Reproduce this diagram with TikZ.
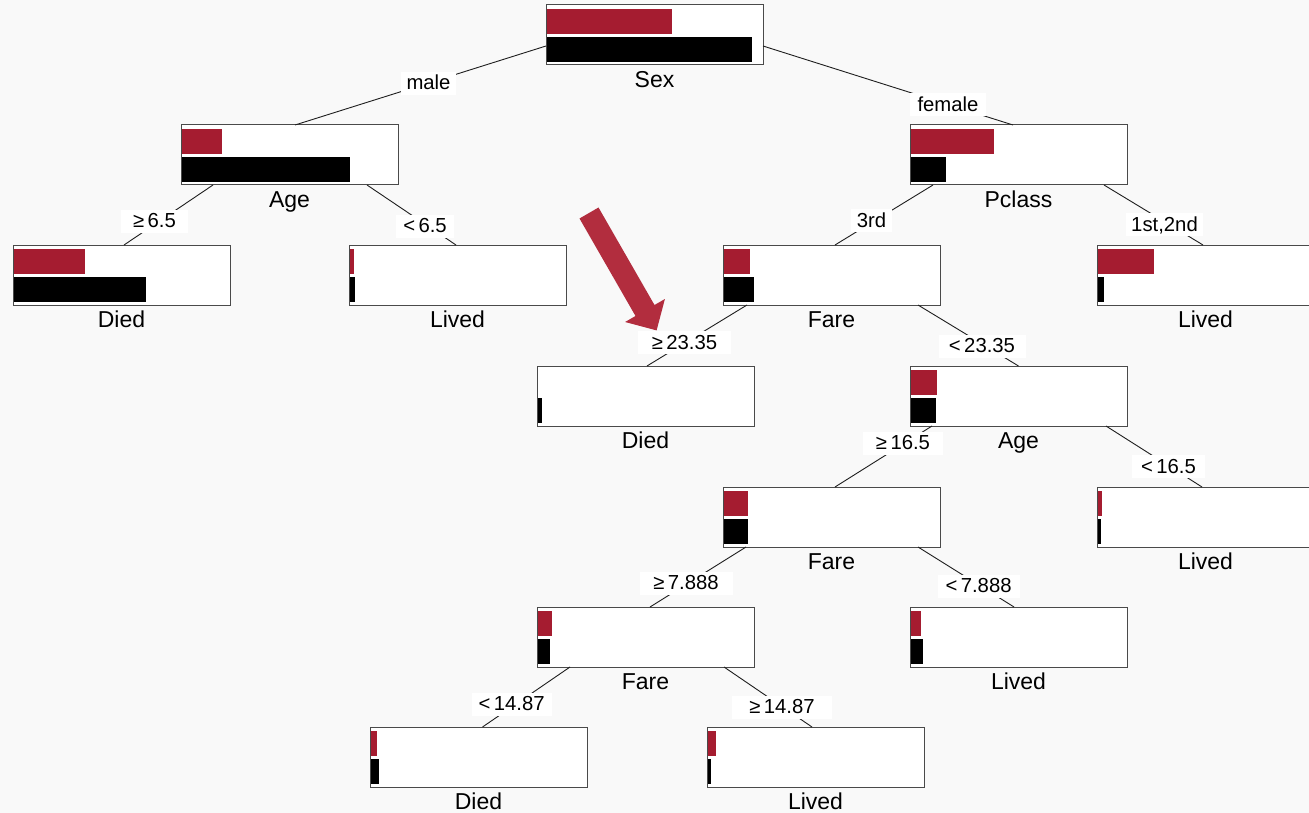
\documentclass[tikz,border=0pt]{standalone}
\usepackage{fontspec}
\setmainfont{Liberation Sans}
\usetikzlibrary{calc}
\definecolor{bgc}{HTML}{F9F9F9}
\definecolor{barred}{HTML}{A51C30}
\definecolor{arrowred}{HTML}{B22D3E}
\definecolor{boxline}{HTML}{4A4A4A}
\definecolor{edgeline}{HTML}{1E1E1E}
\tikzset{
  treebox/.style={draw=boxline, line width=1pt, fill=white, minimum width=217pt, minimum height=60pt, inner sep=0pt, outer sep=0pt},
  nodelab/.style={font=\fontsize{23}{26}\selectfont, inner sep=0pt, anchor=base},
  edgelab/.style={fill=white, font=\fontsize{20.3}{24}\selectfont, text height=14.5pt, text depth=1.5pt, inner xsep=5.5pt, inner ysep=3.5pt},
  edge/.style={draw=edgeline, line width=0.9pt}
}
\newcommand\treebars[3]{%
  \fill[barred] ([shift={(1pt,-4pt)}]#1.north west) rectangle ++(#2,25);
  \fill[black] ([shift={(1pt,-32pt)}]#1.north west) rectangle ++(#3,25);
}
\begin{document}
\begin{tikzpicture}[x=1pt,y=-1pt]
\fill[bgc] (0,0) rectangle (1309,813);
\useasboundingbox (0,0) rectangle (1309,813);
% boxes
\node[treebox] (sex) at (654.5,35) {};
\node[treebox] (ageL) at (289.5,155) {};
\node[treebox] (diedL) at (121.5,275) {};
\node[treebox] (lived65) at (457.5,275) {};
\node[treebox] (pclass) at (1018.5,155) {};
\node[treebox] (lived12) at (1205.5,275) {};
\node[treebox] (fare1) at (831.5,275) {};
\node[treebox] (died2335) at (645.5,396) {};
\node[treebox] (ageR) at (1018.5,396) {};
\node[treebox] (lived165) at (1205.5,517) {};
\node[treebox] (fare2) at (831.5,517) {};
\node[treebox] (lived7888) at (1018.5,637) {};
\node[treebox] (fare3) at (645.5,637) {};
\node[treebox] (died1487) at (478.5,757) {};
\node[treebox] (lived1487) at (815.5,757) {};
% bars
\treebars{sex}{125}{205}
\treebars{ageL}{40}{168}
\treebars{diedL}{71}{132}
\treebars{lived65}{3.5}{5}
\treebars{pclass}{83}{35}
\treebars{lived12}{56}{6}
\treebars{fare1}{26}{30}
\fill[black] ([shift={(1pt,-32pt)}]died2335.north west) rectangle ++(4,25);
\treebars{ageR}{26}{25}
\treebars{lived165}{3.5}{2.5}
\treebars{fare2}{24}{24}
\treebars{lived7888}{10}{12}
\treebars{fare3}{13.5}{11.5}
\treebars{died1487}{6.3}{8.3}
\treebars{lived1487}{7.5}{3}
% node labels
\node[nodelab] (sexlab) at ([yshift=-22.5pt]sex.south) {Sex};
\node[nodelab] (ageLlab) at ([yshift=-22.5pt]ageL.south) {Age};
\node[nodelab] (diedLlab) at ([yshift=-22.5pt]diedL.south) {Died};
\node[nodelab] (lived65lab) at ([yshift=-22.5pt]lived65.south) {Lived};
\node[nodelab] (pclasslab) at ([yshift=-22.5pt]pclass.south) {Pclass};
\node[nodelab] (lived12lab) at ([yshift=-22.5pt]lived12.south) {Lived};
\node[nodelab] (fare1lab) at ([yshift=-22.5pt]fare1.south) {Fare};
\node[nodelab] (died2335lab) at ([yshift=-22.5pt]died2335.south) {Died};
\node[nodelab] (ageRlab) at ([yshift=-22.5pt]ageR.south) {Age};
\node[nodelab] (lived165lab) at ([yshift=-22.5pt]lived165.south) {Lived};
\node[nodelab] (fare2lab) at ([yshift=-22.5pt]fare2.south) {Fare};
\node[nodelab] (lived7888lab) at ([yshift=-22.5pt]lived7888.south) {Lived};
\node[nodelab] (fare3lab) at ([yshift=-22.5pt]fare3.south) {Fare};
\node[nodelab] (died1487lab) at ([yshift=-22.5pt]died1487.south) {Died};
\node[nodelab] (lived1487lab) at ([yshift=-22.5pt]lived1487.south) {Lived};
% edges
\draw[edge] ([yshift=-11pt]sex.west) -- ([xshift=5.5pt]ageL.north);
\draw[edge] ([yshift=-11pt]sex.east) -- ([xshift=-5.5pt]pclass.north);
\draw[edge] ([xshift=32pt]ageL.south west) -- ([xshift=2.5pt]diedL.north);
\draw[edge] ([xshift=-31pt]ageL.south east) -- ([xshift=-1.5pt]lived65.north);
\draw[edge] ([xshift=23pt]pclass.south west) -- ([xshift=3.5pt]fare1.north);
\draw[edge] ([xshift=-23pt]pclass.south east) -- ([xshift=-2.5pt]lived12.north);
\draw[edge] ([xshift=24pt]fare1.south west) -- ([xshift=1.5pt]died2335.north);
\draw[edge] ([xshift=-22pt]fare1.south east) -- (ageR.north);
\draw[edge] ([xshift=22pt]ageR.south west) -- ([xshift=3.5pt]fare2.north);
\draw[edge] ([xshift=-21pt]ageR.south east) -- ([xshift=-3.5pt]lived165.north);
\draw[edge] ([xshift=23pt]fare2.south west) -- ([xshift=4.5pt]fare3.north);
\draw[edge] ([xshift=-22pt]fare2.south east) -- ([xshift=-4.5pt]lived7888.north);
\draw[edge] ([xshift=33pt]fare3.south west) -- ([xshift=4pt]died1487.north);
\draw[edge] ([xshift=-30pt]fare3.south east) -- ([xshift=-3.5pt]lived1487.north);
% edge labels
\node[edgelab, minimum width=55pt] (lmale) at (428.5,83.5) {male};
\node[edgelab, minimum width=76pt] (lfemale) at (948,105) {female};
\node[edgelab, minimum width=67pt] (lge65) at (154.5,221.5) {≥\,6.5};
\node[edgelab, minimum width=58pt] (llt65) at (425,226.5) {<\,6.5};
\node[edgelab, minimum width=39pt] (l3rd) at (871.5,221) {3rd};
\node[edgelab, minimum width=75pt] (l12) at (1164.5,225) {1st,2nd};
\node[edgelab, minimum width=93pt] (lge2335) at (684.5,342.5) {≥\,23.35};
\node[edgelab, minimum width=87pt] (llt2335) at (982,346) {<\,23.35};
\node[edgelab, minimum width=80pt] (lge165) at (903,443) {≥\,16.5};
\node[edgelab, minimum width=73pt] (llt165) at (1168.5,466.5) {<\,16.5};
\node[edgelab, minimum width=93pt] (lge7888) at (686,583) {≥\,7.888};
\node[edgelab, minimum width=82pt] (llt7888) at (978.6,586) {<\,7.888};
\node[edgelab, minimum width=80pt] (llt1487) at (511.6,704) {<\,14.87};
\node[edgelab, minimum width=100pt] (lge1487) at (782,707) {≥\,14.87};
% highlight arrow
\fill[arrowred] (598.5,207.5) -- (654.5,305) -- (664.9,299) -- (656.6,330.4) -- (625.1,322) -- (635.5,316) -- (579.5,218.5) -- cycle;
\end{tikzpicture}
\end{document}
